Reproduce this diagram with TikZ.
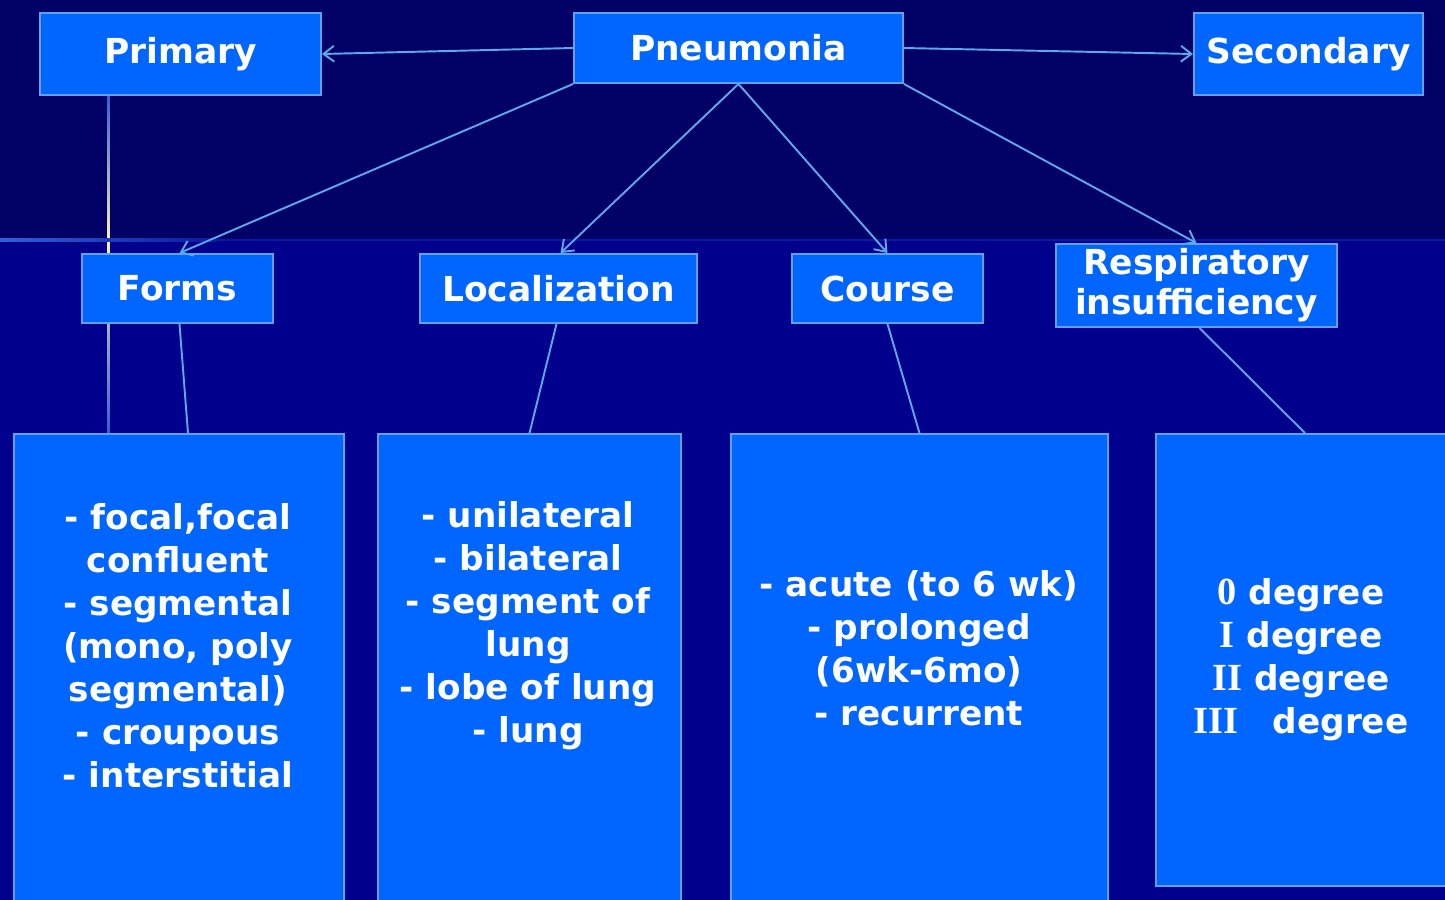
\documentclass[tikz,border=0pt]{standalone}
\usepackage{fontspec}
\setmainfont{DejaVu Sans}
\newfontfamily\numfont[Scale=1.12]{Liberation Serif}
\usetikzlibrary{arrows.meta,calc}
\definecolor{bgtop}{HTML}{000066}
\definecolor{bgbot}{HTML}{00008C}
\definecolor{boxc}{HTML}{0066FF}
\definecolor{bordc}{HTML}{5FA2F2}
\definecolor{linec}{HTML}{5CA8EA}
\definecolor{flare}{HTML}{FFF2B0}
\definecolor{vline}{HTML}{3060D8}
\definecolor{hline}{HTML}{0A1AA0}
\begin{document}
\begin{tikzpicture}[x=0.02cm,y=-0.02cm,
  box/.style={draw=bordc,line width=1.1pt,fill=boxc,inner sep=0pt,text=white,
    font=\bfseries\fontsize{19.6}{22.7}\selectfont,align=center},
  txt/.style={text=white,font=\bfseries\fontsize{19.5}{24.5}\selectfont,align=center,inner sep=0pt},
  conn/.style={draw=linec,line width=1.1pt},
  arr/.style={conn,-{Straight Barb[length=6pt,width=9pt]}}]
\clip (0,0) rectangle (1445,900);
\fill[bgtop] (0,0) rectangle (1445,240);
\fill[bgbot] (0,240) rectangle (1445,900);
\fill[hline] (216,239) rectangle (1445,241);
\shade[top color=vline,bottom color=flare] (107,95) rectangle (109.5,240);
\shade[top color=flare,bottom color=vline] (107,240) rectangle (109.5,434);
\shade[left color=vline,middle color=flare,right color=hline] (0,238.8) rectangle (216,241.5);

\node[box,minimum width=5.62cm,minimum height=1.64cm] (primary) at (180.5,54) {Primary};
\node[box,minimum width=6.58cm,minimum height=1.40cm] (pneu) at (738.5,48) {Pneumonia};
\node[box,minimum width=4.58cm,minimum height=1.64cm] (secondary) at (1308.5,54) {Secondary};
\node[box,minimum width=3.82cm,minimum height=1.38cm] (forms) at (177.5,288.5) {Forms};
\node[box,minimum width=5.54cm,minimum height=1.38cm] (loc) at (558.5,288.5) {Localization};
\node[box,minimum width=3.82cm,minimum height=1.38cm] (course) at (887.5,288.5) {Course};
\node[box,minimum width=5.62cm,minimum height=1.66cm] (resp) at (1196.5,285.5) {Respiratory\\insufficiency};

\node[box,minimum width=6.60cm,minimum height=9.72cm] (box1) at (179,677) {};
\node[box,minimum width=6.06cm,minimum height=9.72cm] (box2) at (529.5,677) {};
\node[box,minimum width=7.54cm,minimum height=9.72cm] (box3) at (919.5,677) {};
\node[box,minimum width=6.08cm,minimum height=9.04cm] (box4) at (1308,660) {};

\node[txt] (t1) at (178,646) {- focal,focal\\confluent\\- segmental\\(mono, poly\\segmental)\\- croupous\\- interstitial};
\node[txt] (t2) at (528,626) {- unilateral\\- bilateral\\- segment of\\lung\\- lobe of lung\\- lung};
\node[txt] (t3) at (919,648) {- acute (to 6 wk)\\- prolonged\\(6wk-6mo)\\- recurrent};
\node[txt] (t4) at (1301,660) {{\numfont 0} degree\\{\numfont I} degree\\{\numfont II} degree\\{\numfont III}\quad degree};

\draw[arr] (pneu.west) -- (primary.east);
\draw[arr] (pneu.east) -- (secondary.west);
\draw[arr] (pneu.south west) -- ($(forms.north)+(2,0)$);
\draw[arr] (pneu.south) -- ($(loc.north)+(2,0)$);
\draw[arr] (pneu.south) -- (course.north);
\draw[arr] (pneu.south east) -- (resp.north);
\draw[conn] ($(forms.south)+(2,0)$) -- ($(box1.north)+(9,0)$);
\draw[conn] ($(loc.south)+(-2,0)$) -- (box2.north);
\draw[conn] (course.south) -- (box3.north);
\draw[conn] ($(resp.south)+(3,0)$) -- ($(box4.north)+(-3,0)$);
\end{tikzpicture}
\end{document}
